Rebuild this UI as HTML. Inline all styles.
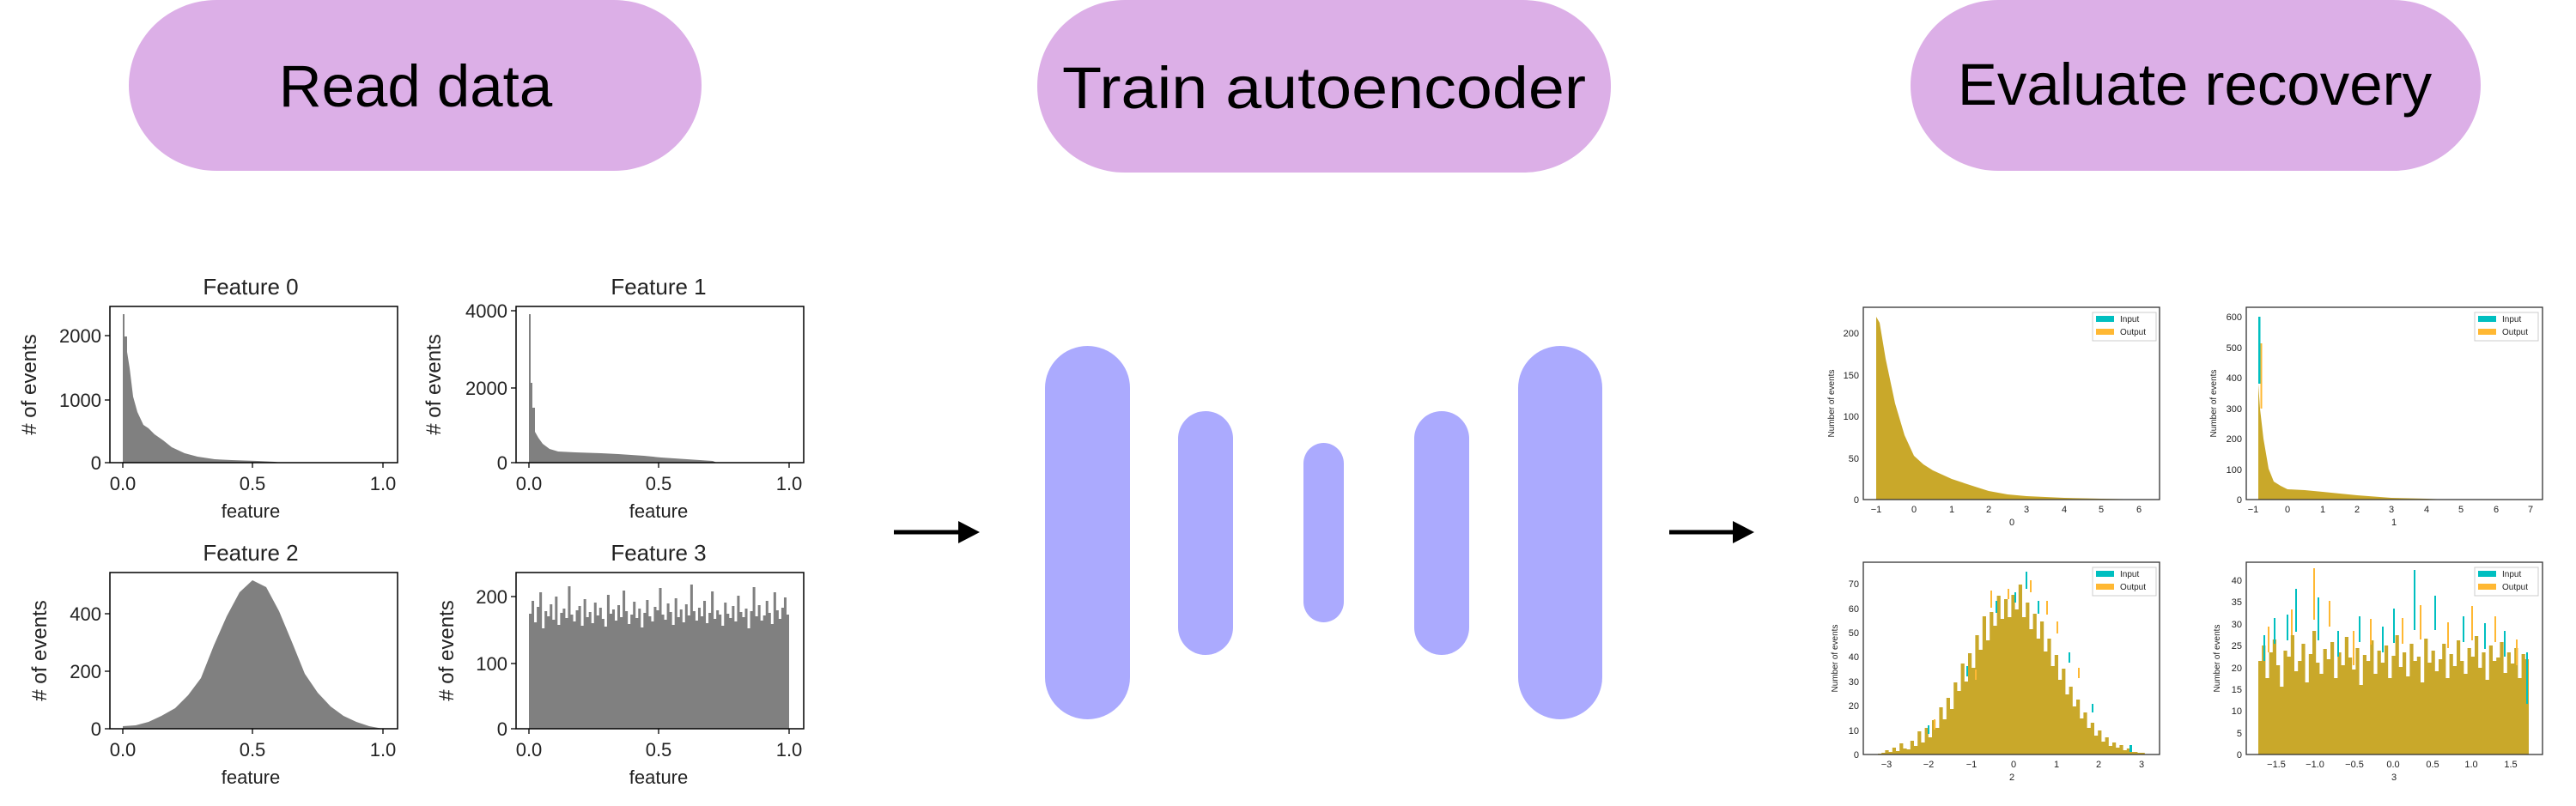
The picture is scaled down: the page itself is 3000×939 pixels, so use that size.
<!DOCTYPE html>
<html><head><meta charset="utf-8"><style>
html,body{margin:0;padding:0;background:#fff;}
svg{display:block;}
.t{font-family:"Liberation Sans",sans-serif;}
</style></head><body>
<svg width="3000" height="939" viewBox="0 0 3000 939" xmlns="http://www.w3.org/2000/svg">
<rect width="3000" height="939" fill="#fff"/>
<rect x="150" y="0" width="667" height="199" rx="102" ry="100" fill="#dcafe7"/>
<rect x="1208" y="0" width="668" height="201" rx="102" ry="100" fill="#dcafe7"/>
<rect x="2225" y="0" width="664" height="199" rx="102" ry="100" fill="#dcafe7"/>
<g class="t" font-size="69" text-anchor="middle" fill="#000">
<text x="484" y="124">Read data</text>
<text x="1542" y="126" textLength="610" lengthAdjust="spacingAndGlyphs">Train autoencoder</text>
<text x="2556" y="122">Evaluate recovery</text>
</g>
<line x1="1041" y1="620" x2="1120" y2="620" stroke="#000" stroke-width="5"/>
<polygon points="1116,607 1141,620 1116,633" fill="#000"/>
<line x1="1944" y1="620" x2="2022" y2="620" stroke="#000" stroke-width="5"/>
<polygon points="2018,607 2043,620 2018,633" fill="#000"/>
<g fill="#abaafe">
<rect x="1217" y="403" width="99" height="435" rx="49.5" ry="49"/>
<rect x="1372" y="479" width="64" height="284" rx="32" ry="32"/>
<rect x="1518" y="516" width="47" height="209" rx="23.5" ry="24"/>
<rect x="1647" y="479" width="64" height="284" rx="32" ry="32"/>
<rect x="1768" y="403" width="98" height="435" rx="49" ry="49"/>
</g>

<!-- LEFT -->
<polygon fill="#808080" points="143,539 143,366 145,366 145,392 148,392 148,410 151,429 155,462 160,480 167,495 173,499 180,506 190,513 200,521 215,528 230,532 250,535 270,536 300,537 320,538 327,539"/>
<polygon fill="#808080" points="616,539 616,366 618,366 618,446 620,446 620,475 623,475 623,503 627,510 632,517 640,523 650,526 670,527 700,528 720,529 750,531 770,533 800,535 830,537 835,539"/>
<polygon fill="#808080" points="143,849 143,846 158,845 173,841 188,834 204,825 219,810 234,790 249,752 264,718 279,690 294,676 310,684 325,712 340,748 355,785 370,807 385,823 400,834 415,841 430,846 446,849"/>
<path fill="#808080" d="M616,849 V715 h3.03 V700 h3.03 V725 h3.03 V707 h3.03 V690 h3.03 V732 h3.03 V712 h3.03 V718 h3.03 V704 h3.03 V722 h3.03 V695 h3.03 V728 h3.03 V714 h3.03 V709 h3.03 V720 h3.03 V683 h3.03 V716 h3.03 V724 h3.03 V711 h3.03 V706 h3.03 V729 h3.03 V698 h3.03 V719 h3.03 V713 h3.03 V726 h3.03 V702 h3.03 V717 h3.03 V708 h3.03 V721 h3.03 V730 h3.03 V693 h3.03 V715 h3.03 V710 h3.03 V723 h3.03 V705 h3.03 V719 h3.03 V688 h3.03 V712 h3.03 V727 h3.03 V716 h3.03 V701 h3.03 V720 h3.03 V709 h3.03 V731 h3.03 V714 h3.03 V699 h3.03 V718 h3.03 V724 h3.03 V707 h3.03 V711 h3.03 V685 h3.03 V716 h3.03 V722 h3.03 V703 h3.03 V713 h3.03 V728 h3.03 V697 h3.03 V719 h3.03 V710 h3.03 V725 h3.03 V704 h3.03 V717 h3.03 V681 h3.03 V712 h3.03 V723 h3.03 V708 h3.03 V718 h3.03 V700 h3.03 V726 h3.03 V714 h3.03 V689 h3.03 V721 h3.03 V711 h3.03 V716 h3.03 V729 h3.03 V702 h3.03 V715 h3.03 V720 h3.03 V706 h3.03 V724 h3.03 V694 h3.03 V713 h3.03 V719 h3.03 V709 h3.03 V732 h3.03 V712 h3.03 V684 h3.03 V718 h3.03 V705 h3.03 V723 h3.03 V717 h3.03 V700 h3.03 V714 h3.03 V727 h3.03 V690 h3.03 V711 h3.03 V721 h3.03 V708 h3.03 V696 h3.03 V716 H919 V849 Z"/>
<g fill="none" stroke="#000" stroke-width="1.5">
<rect x="128" y="357" width="335" height="182"/>
<rect x="601" y="357" width="335" height="182"/>
<rect x="128" y="667" width="335" height="182"/>
<rect x="601" y="667" width="335" height="182"/>
</g>
<g stroke="#000" stroke-width="1.3">
<line x1="143" y1="539" x2="143" y2="545"/><line x1="294" y1="539" x2="294" y2="545"/><line x1="446" y1="539" x2="446" y2="545"/>
<line x1="616" y1="539" x2="616" y2="545"/><line x1="767" y1="539" x2="767" y2="545"/><line x1="919" y1="539" x2="919" y2="545"/>
<line x1="143" y1="849" x2="143" y2="855"/><line x1="294" y1="849" x2="294" y2="855"/><line x1="446" y1="849" x2="446" y2="855"/>
<line x1="616" y1="849" x2="616" y2="855"/><line x1="767" y1="849" x2="767" y2="855"/><line x1="919" y1="849" x2="919" y2="855"/>
<line x1="122" y1="539" x2="128" y2="539"/><line x1="122" y1="466" x2="128" y2="466"/><line x1="122" y1="391" x2="128" y2="391"/>
<line x1="595" y1="539" x2="601" y2="539"/><line x1="595" y1="452" x2="601" y2="452"/><line x1="595" y1="362" x2="601" y2="362"/>
<line x1="122" y1="849" x2="128" y2="849"/><line x1="122" y1="782" x2="128" y2="782"/><line x1="122" y1="715" x2="128" y2="715"/>
<line x1="595" y1="849" x2="601" y2="849"/><line x1="595" y1="773" x2="601" y2="773"/><line x1="595" y1="695" x2="601" y2="695"/>
</g>
<g class="t" font-size="26" fill="#222" text-anchor="middle">
<text x="292" y="343">Feature 0</text>
<text x="767" y="343">Feature 1</text>
<text x="292" y="653">Feature 2</text>
<text x="767" y="653">Feature 3</text>
</g>
<g class="t" font-size="22" fill="#222" text-anchor="middle">
<text x="143" y="571">0.0</text><text x="294" y="571">0.5</text><text x="446" y="571">1.0</text>
<text x="616" y="571">0.0</text><text x="767" y="571">0.5</text><text x="919" y="571">1.0</text>
<text x="143" y="881">0.0</text><text x="294" y="881">0.5</text><text x="446" y="881">1.0</text>
<text x="616" y="881">0.0</text><text x="767" y="881">0.5</text><text x="919" y="881">1.0</text>
<text x="292" y="603">feature</text><text x="767" y="603">feature</text>
<text x="292" y="913">feature</text><text x="767" y="913">feature</text>
</g>
<g class="t" font-size="22" fill="#222" text-anchor="end">
<text x="118" y="547">0</text><text x="118" y="474">1000</text><text x="118" y="399">2000</text>
<text x="591" y="547">0</text><text x="591" y="460">2000</text><text x="591" y="370">4000</text>
<text x="118" y="857">0</text><text x="118" y="790">200</text><text x="118" y="723">400</text>
<text x="591" y="857">0</text><text x="591" y="781">100</text><text x="591" y="703">200</text>
</g>
<g class="t" font-size="24" fill="#222" text-anchor="middle">
<text transform="translate(42,448) rotate(-90)">#&#160;of events</text>
<text transform="translate(513,448) rotate(-90)">#&#160;of events</text>
<text transform="translate(54,758) rotate(-90)">#&#160;of events</text>
<text transform="translate(528,758) rotate(-90)">#&#160;of events</text>
</g>

<!-- RIGHT -->
<polygon fill="#c9a82a" points="2185,582 2185,369 2189,376 2196,418 2207,470 2218,507 2229,531 2240,541 2251,548 2273,558 2294,565 2316,572 2338,576 2360,578 2404,580 2447,581 2500,582"/>
<polygon fill="#c9a82a" points="2630,582 2630,447 2632,476 2636,511 2642,546 2648,561 2656,566 2664,570 2684,571 2705,573 2745,577 2785,580 2826,581 2850,582"/>
<rect x="2630" y="369" width="2.5" height="78" fill="#00bfc0"/>
<rect x="2632.5" y="400" width="2" height="76" fill="#ffb833"/>
<path fill="#c9a82a" d="M2187,879 V878 h4.2 V877 h4.2 V874 h4.2 V876 h4.2 V871 h4.2 V875 h4.2 V866 h4.2 V872 h4.2 V873 h4.2 V863 h4.2 V869 h4.2 V852 h4.2 V865 h4.2 V848 h4.2 V859 h4.2 V839 h4.2 V848 h4.2 V824 h4.2 V838 h4.2 V813 h4.2 V826 h4.2 V795 h4.2 V805 h4.2 V773 h4.2 V794 h4.2 V761 h4.2 V778 h4.2 V740 h4.2 V757 h4.2 V718 h4.2 V746 h4.2 V713 h4.2 V729 h4.2 V694 h4.2 V721 h4.2 V698 h4.2 V719 h4.2 V693 h4.2 V710 h4.2 V681 h4.2 V719 h4.2 V702 h4.2 V733 h4.2 V715 h4.2 V744 h4.2 V724 h4.2 V759 h4.2 V744 h4.2 V776 h4.2 V763 h4.2 V792 h4.2 V779 h4.2 V809 h4.2 V800 h4.2 V823 h4.2 V815 h4.2 V837 h4.2 V830 h4.2 V848 h4.2 V842 h4.2 V857 h4.2 V851 h4.2 V864 h4.2 V859 h4.2 V869 h4.2 V865 h4.2 V871 h4.2 V868 h4.2 V874 h4.2 V872 h4.2 V876 h4.2 V876 h4.2 V877 h4.2 V877 h4.2 V879 Z"/>
<g fill="#00bfc0"><rect x="2245" y="845" width="2" height="10"/><rect x="2290" y="776" width="2" height="12"/><rect x="2324" y="700" width="2" height="14"/><rect x="2346" y="690" width="2" height="12"/><rect x="2359" y="666" width="2" height="20"/><rect x="2373" y="700" width="2" height="15"/><rect x="2409" y="760" width="2" height="12"/><rect x="2436" y="820" width="2" height="10"/><rect x="2480" y="868" width="3" height="8"/></g>
<g fill="#ffb833"><rect x="2252" y="838" width="2" height="12"/><rect x="2300" y="780" width="2" height="12"/><rect x="2318" y="688" width="2" height="20"/><rect x="2338" y="686" width="2" height="12"/><rect x="2364" y="676" width="2" height="14"/><rect x="2383" y="700" width="2" height="16"/><rect x="2395" y="724" width="2" height="14"/><rect x="2420" y="778" width="2" height="12"/></g>
<path fill="#c9a82a" d="M2630,879 V770 h4.2 V752 h4.2 V790 h4.2 V760 h4.2 V745 h4.2 V775 h4.2 V800 h4.2 V758 h4.2 V765 h4.2 V740 h4.2 V782 h4.2 V770 h4.2 V750 h4.2 V795 h4.2 V762 h4.2 V735 h4.2 V772 h4.2 V785 h4.2 V756 h4.2 V768 h4.2 V748 h4.2 V790 h4.2 V760 h4.2 V775 h4.2 V742 h4.2 V766 h4.2 V780 h4.2 V755 h4.2 V798 h4.2 V763 h4.2 V770 h4.2 V746 h4.2 V785 h4.2 V758 h4.2 V772 h4.2 V752 h4.2 V790 h4.2 V764 h4.2 V740 h4.2 V777 h4.2 V760 h4.2 V788 h4.2 V750 h4.2 V770 h4.2 V765 h4.2 V795 h4.2 V744 h4.2 V772 h4.2 V758 h4.2 V782 h4.2 V768 h4.2 V750 h4.2 V790 h4.2 V762 h4.2 V776 h4.2 V746 h4.2 V770 h4.2 V785 h4.2 V755 h4.2 V765 h4.2 V741 h4.2 V778 h4.2 V760 h4.2 V792 h4.2 V752 h4.2 V770 h4.2 V766 h4.2 V748 h4.2 V784 h4.2 V760 h4.2 V773 h4.2 V755 h4.2 V790 h4.2 V762 h4.2 V768 H2945 V879 Z"/>
<g fill="#00bfc0"><rect x="2636" y="740" width="2" height="30"/><rect x="2648" y="720" width="2" height="30"/><rect x="2663" y="716" width="2" height="30"/><rect x="2673" y="686" width="2" height="50"/><rect x="2699" y="696" width="2" height="50"/><rect x="2722" y="735" width="2" height="30"/><rect x="2747" y="718" width="2" height="30"/><rect x="2774" y="730" width="2" height="30"/><rect x="2787" y="709" width="2" height="40"/><rect x="2811" y="664" width="2" height="70"/><rect x="2835" y="694" width="2" height="40"/><rect x="2868" y="718" width="2" height="30"/><rect x="2893" y="726" width="2" height="30"/><rect x="2916" y="735" width="2" height="30"/><rect x="2942" y="760" width="2" height="60"/></g>
<g fill="#ffb833"><rect x="2641" y="730" width="2" height="30"/><rect x="2668" y="710" width="2" height="30"/><rect x="2694" y="662" width="2" height="60"/><rect x="2712" y="700" width="2" height="30"/><rect x="2740" y="735" width="2" height="40"/><rect x="2760" y="721" width="2" height="30"/><rect x="2797" y="720" width="2" height="30"/><rect x="2818" y="705" width="2" height="40"/><rect x="2850" y="725" width="2" height="30"/><rect x="2878" y="706" width="2" height="40"/><rect x="2905" y="718" width="2" height="30"/><rect x="2930" y="745" width="2" height="30"/></g>
<g fill="none" stroke="#333" stroke-width="1.3">
<rect x="2170" y="358" width="345" height="224"/>
<rect x="2616" y="358" width="345" height="224"/>
<rect x="2170" y="655" width="345" height="224"/>
<rect x="2616" y="655" width="345" height="224"/>
</g>
<g>
<rect x="2437" y="364" width="74" height="33" fill="#fff" stroke="#ccc"/>
<rect x="2441" y="368" width="21" height="7" fill="#00bfc0"/><rect x="2441" y="383" width="21" height="7" fill="#ffb833"/>
<rect x="2882" y="364" width="74" height="33" fill="#fff" stroke="#ccc"/>
<rect x="2886" y="368" width="21" height="7" fill="#00bfc0"/><rect x="2886" y="383" width="21" height="7" fill="#ffb833"/>
<rect x="2437" y="661" width="74" height="33" fill="#fff" stroke="#ccc"/>
<rect x="2441" y="665" width="21" height="7" fill="#00bfc0"/><rect x="2441" y="680" width="21" height="7" fill="#ffb833"/>
<rect x="2882" y="661" width="74" height="33" fill="#fff" stroke="#ccc"/>
<rect x="2886" y="665" width="21" height="7" fill="#00bfc0"/><rect x="2886" y="680" width="21" height="7" fill="#ffb833"/>
</g>
<g class="t" font-size="10" fill="#222">
<text x="2469" y="375">Input</text><text x="2469" y="390">Output</text>
<text x="2914" y="375">Input</text><text x="2914" y="390">Output</text>
<text x="2469" y="672">Input</text><text x="2469" y="687">Output</text>
<text x="2914" y="672">Input</text><text x="2914" y="687">Output</text>
</g>
<g class="t" font-size="11" fill="#222" text-anchor="middle">
<text x="2185" y="597">−1</text><text x="2229" y="597">0</text><text x="2273" y="597">1</text><text x="2316" y="597">2</text><text x="2360" y="597">3</text><text x="2404" y="597">4</text><text x="2447" y="597">5</text><text x="2491" y="597">6</text>
<text x="2624" y="597">−1</text><text x="2664" y="597">0</text><text x="2705" y="597">1</text><text x="2745" y="597">2</text><text x="2785" y="597">3</text><text x="2826" y="597">4</text><text x="2866" y="597">5</text><text x="2907" y="597">6</text><text x="2947" y="597">7</text>
<text x="2197" y="894">−3</text><text x="2246" y="894">−2</text><text x="2296" y="894">−1</text><text x="2345" y="894">0</text><text x="2395" y="894">1</text><text x="2444" y="894">2</text><text x="2494" y="894">3</text>
<text x="2651" y="894">−1.5</text><text x="2696" y="894">−1.0</text><text x="2742" y="894">−0.5</text><text x="2787" y="894">0.0</text><text x="2833" y="894">0.5</text><text x="2878" y="894">1.0</text><text x="2924" y="894">1.5</text>
<text x="2343" y="612">0</text><text x="2788" y="612">1</text><text x="2343" y="909">2</text><text x="2788" y="909">3</text>
</g>
<g class="t" font-size="11" fill="#222" text-anchor="end">
<text x="2165" y="586">0</text><text x="2165" y="538">50</text><text x="2165" y="489">100</text><text x="2165" y="441">150</text><text x="2165" y="392">200</text>
<text x="2611" y="586">0</text><text x="2611" y="551">100</text><text x="2611" y="515">200</text><text x="2611" y="480">300</text><text x="2611" y="444">400</text><text x="2611" y="409">500</text><text x="2611" y="373">600</text>
<text x="2165" y="883">0</text><text x="2165" y="855">10</text><text x="2165" y="826">20</text><text x="2165" y="798">30</text><text x="2165" y="769">40</text><text x="2165" y="741">50</text><text x="2165" y="713">60</text><text x="2165" y="684">70</text>
<text x="2611" y="883">0</text><text x="2611" y="858">5</text><text x="2611" y="832">10</text><text x="2611" y="807">15</text><text x="2611" y="782">20</text><text x="2611" y="756">25</text><text x="2611" y="731">30</text><text x="2611" y="705">35</text><text x="2611" y="680">40</text>
</g>
<g class="t" font-size="10" fill="#222" text-anchor="middle">
<text transform="translate(2136,470) rotate(-90)">Number of events</text>
<text transform="translate(2581,470) rotate(-90)">Number of events</text>
<text transform="translate(2140,767) rotate(-90)">Number of events</text>
<text transform="translate(2585,767) rotate(-90)">Number of events</text>
</g>
</svg>
</body></html>
